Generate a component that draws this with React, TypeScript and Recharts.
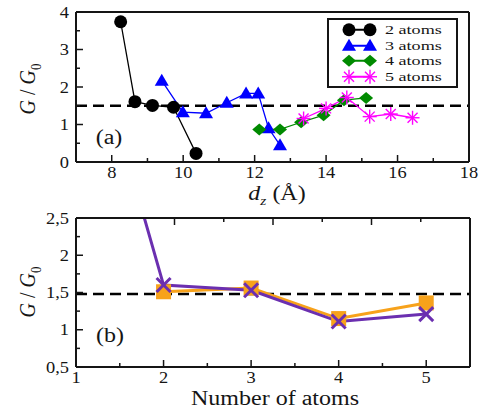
import React from 'react'
import { LineChart, Line, XAxis, YAxis, ReferenceLine, Legend } from 'recharts'

const FONT = '"Liberation Serif", "DejaVu Serif", serif'
const INK = '#151515'

// panel (a): G/G0 against electrode separation d_z
const dz2 = [8.25, 8.65, 9.14, 9.73, 10.36]
const g2 = [3.74, 1.61, 1.51, 1.46, 0.23]
const dz3 = [9.4, 9.99, 10.64, 11.22, 11.76, 12.1, 12.39, 12.71]
const g3 = [2.17, 1.33, 1.3, 1.58, 1.83, 1.83, 0.9, 0.45]
const dz4 = [12.13, 12.71, 13.3, 13.93, 14.5, 15.12]
const g4 = [0.87, 0.87, 1.06, 1.25, 1.65, 1.71]
const dz5 = [13.37, 14.0, 14.58, 15.22, 15.81, 16.42]
const g5 = [1.16, 1.43, 1.72, 1.21, 1.28, 1.18]
const seriesNames = ['2 atoms', '3 atoms', '4 atoms', '5 atoms']
const limitA = 1.5

// panel (b): G/G0 against number of atoms
const atomCounts = [1, 2, 3, 4, 5]
const gSquare = [null, 1.51, 1.56, 1.15, 1.36]
const gCross = [5.7, 1.6, 1.53, 1.11, 1.21]
const limitB = 1.48

// axis ticks (all ticks, and the labelled/major ones)
const dzTicks = [7, 8, 9, 10, 11, 12, 13, 14, 15, 16, 17, 18]
const dzMajor = [8, 10, 12, 14, 16, 18]
const gTicksA = [0, 0.5, 1, 1.5, 2, 2.5, 3, 3.5, 4]
const gMajorA = [0, 1, 2, 3, 4]
const nTicks = [1, 1.5, 2, 2.5, 3, 3.5, 4, 4.5, 5, 5.5]
const nMajor = [1, 2, 3, 4, 5]
const gTicksB = [0.5, 0.75, 1, 1.25, 1.5, 1.75, 2, 2.25, 2.5]
const gMajorB = [0.5, 1, 1.5, 2, 2.5]

const seriesA = [
  { name: seriesNames[0], xs: dz2, ys: g2, color: '#000000', shape: 'circle' },
  { name: seriesNames[1], xs: dz3, ys: g3, color: '#0000ff', shape: 'triangle' },
  { name: seriesNames[2], xs: dz4, ys: g4, color: '#008a00', shape: 'diamond' },
  { name: seriesNames[3], xs: dz5, ys: g5, color: '#ff00ff', shape: 'star' },
]

const rowsB = atomCounts.map((n, i) => ({ n, sq: gSquare[i], cr: gCross[i] }))

function Marker({ shape, cx, cy, color }: { shape: string; cx: number; cy: number; color: string }) {
  switch (shape) {
    case 'circle':
      return <circle cx={cx} cy={cy} r={6.5} fill={color} />
    case 'triangle':
      return <polygon points={`${cx},${cy - 7} ${cx - 7},${cy + 5} ${cx + 7},${cy + 5}`} fill={color} />
    case 'diamond':
      return <polygon points={`${cx},${cy - 6} ${cx + 7},${cy} ${cx},${cy + 6} ${cx - 7},${cy}`} fill={color} />
    case 'star':
      return (
        <g stroke={color} strokeWidth={1.4}>
          <line x1={cx - 7} y1={cy} x2={cx + 7} y2={cy} />
          <line x1={cx} y1={cy - 7} x2={cx} y2={cy + 7} />
          <line x1={cx - 5} y1={cy - 5} x2={cx + 5} y2={cy + 5} />
          <line x1={cx - 5} y1={cy + 5} x2={cx + 5} y2={cy - 5} />
        </g>
      )
    case 'square':
      return <rect x={cx - 7.5} y={cy - 7.5} width={15} height={15} fill={color} />
    case 'cross':
      return (
        <g stroke={color} strokeWidth={3}>
          <line x1={cx - 7} y1={cy - 7} x2={cx + 7} y2={cy + 7} />
          <line x1={cx - 7} y1={cy + 7} x2={cx + 7} y2={cy - 7} />
        </g>
      )
    default:
      return null
  }
}

const dotOf = (shape: string, color: string) => (p: any) => {
  if (p.cx == null || p.cy == null || p.value == null) return <g key={p.index} />
  return <Marker key={p.index} shape={shape} cx={p.cx} cy={p.cy} color={color} />
}

const fmtComma = (v: number) => String(v).replace('.', ',')

// inward ticks, drawn by hand; labels only on the bottom and left axes
function makeTick(side: 'bottom' | 'top' | 'left' | 'right', majors: number[], labels: boolean, fmt = (v: number) => String(v)) {
  return (props: any) => {
    const { x, y, payload, index } = props
    const v = payload.value
    const major = majors.includes(v)
    const len = major ? 7 : 4
    let tick
    if (side === 'bottom') tick = <line x1={x} x2={x} y1={y} y2={y - len} />
    else if (side === 'top') tick = <line x1={x} x2={x} y1={y} y2={y + len} />
    else if (side === 'left') tick = <line x1={x} x2={x + len} y1={y} y2={y} />
    else tick = <line x1={x} x2={x - len} y1={y} y2={y} />
    let label = null
    if (labels && major) {
      const tx = side === 'left' ? x - 7 : x
      const ty = side === 'left' ? y + 5.5 : y + 16
      label = (
        <text
          transform={`translate(${tx} ${ty}) scale(1.15 1)`}
          textAnchor={side === 'left' ? 'end' : 'middle'}
          fontSize={16}
          fontFamily={FONT}
          fill={INK}
          stroke="none"
        >
          {fmt(v)}
        </text>
      )
    }
    return (
      <g key={index} stroke={INK} strokeWidth={1.5}>
        {tick}
        {label}
      </g>
    )
  }
}

const ROW = 15.5

const LegendBox = ({ payload }: any) => (
  <div style={{ border: `2px solid ${INK}`, background: '#fff', width: 127, padding: '2px 0', fontFamily: FONT }}>
    {(payload || []).map((p: any) => {
      const s = seriesA.find((q) => q.name === p.value)
      if (!s) return null
      return (
        <div key={s.name} style={{ height: ROW, display: 'flex', alignItems: 'center' }}>
          <svg width={50} height={ROW} style={{ marginLeft: 12, overflow: 'visible' }}>
            <line x1={8} x2={29} y1={ROW / 2} y2={ROW / 2} stroke={s.color} strokeWidth={2} />
            <Marker shape={s.shape} cx={8} cy={ROW / 2} color={s.color} />
            <Marker shape={s.shape} cx={29} cy={ROW / 2} color={s.color} />
          </svg>
          <span
            style={{
              fontSize: 13.4,
              lineHeight: 1,
              color: INK,
              transform: 'scaleX(1.35)',
              transformOrigin: 'left',
              marginLeft: -6,
              display: 'inline-block',
            }}
          >
            {s.name}
          </span>
        </div>
      )
    })}
  </div>
)

const axisLine = { stroke: INK, strokeWidth: 2 }

function Overlay({ left, top, rotate, size, children }: any) {
  return (
    <div
      style={{
        position: 'absolute',
        left,
        top,
        transform: `translate(-50%, -50%) ${rotate ? 'rotate(-90deg) scaleY(1.15)' : 'scaleX(1.2)'}`,
        whiteSpace: 'nowrap',
        fontFamily: FONT,
        fontSize: size,
        color: INK,
        lineHeight: 1,
      }}
    >
      {children}
    </div>
  )
}

const gLabel = (
  <>
    <i>G</i> / <i>G</i>
    <sub style={{ fontSize: 13, lineHeight: 0 }}>0</sub>
  </>
)

// shared props for the four framing axes (1px thick so they still render)
const frame = { interval: 0 as const, tickSize: 0, tickMargin: 0, axisLine, tickLine: false }

export default function App() {
  return (
    <div style={{ position: 'absolute', left: 0, top: 0, width: 480, height: 410, background: '#fff' }}>
      <div style={{ position: 'absolute', left: 0, top: 0 }}>
        <LineChart width={480} height={200} margin={{ top: 11, right: 10, bottom: 37, left: 75 }}>
          <XAxis
            dataKey="d"
            type="number"
            domain={[7, 18]}
            ticks={dzTicks}
            height={1}
            {...frame}
            tick={makeTick('bottom', dzMajor, true)}
          />
          <XAxis
            xAxisId="top"
            orientation="top"
            type="number"
            domain={[7, 18]}
            ticks={dzTicks}
            height={1}
            {...frame}
            tick={makeTick('top', dzMajor, false)}
          />
          <YAxis
            type="number"
            domain={[0, 4]}
            ticks={gTicksA}
            width={1}
            {...frame}
            tick={makeTick('left', gMajorA, true)}
          />
          <YAxis
            yAxisId="right"
            orientation="right"
            type="number"
            domain={[0, 4]}
            ticks={gTicksA}
            width={1}
            {...frame}
            tick={makeTick('right', gMajorA, false)}
          />
          <ReferenceLine y={limitA} stroke="#000" strokeWidth={2.5} strokeDasharray="11 6" />
          {seriesA.map((s) => (
            <Line
              key={s.name}
              name={s.name}
              data={s.xs.map((d, i) => ({ d, g: s.ys[i] }))}
              dataKey="g"
              stroke={s.color}
              strokeWidth={1.3}
              dot={dotOf(s.shape, s.color)}
              activeDot={false}
              isAnimationActive={false}
            />
          ))}
          <Legend
            layout="vertical"
            align="center"
            verticalAlign="middle"
            content={<LegendBox />}
            wrapperStyle={{ position: 'absolute', left: 327, top: 18, width: 'auto', height: 'auto' }}
          />
        </LineChart>
      </div>

      <div style={{ position: 'absolute', left: 0, top: 200 }}>
        <LineChart width={480} height={210} data={rowsB} margin={{ top: 17, right: 9, bottom: 42, left: 75 }}>
          <XAxis
            dataKey="n"
            type="number"
            domain={[1, 5.5]}
            ticks={nTicks}
            height={1}
            {...frame}
            tick={makeTick('bottom', nMajor, true)}
          />
          <XAxis
            xAxisId="top"
            orientation="top"
            type="number"
            domain={[1, 5.5]}
            ticks={nTicks}
            height={1}
            {...frame}
            tick={makeTick('top', nMajor, false)}
          />
          <YAxis
            type="number"
            domain={[0.5, 2.5]}
            allowDataOverflow
            ticks={gTicksB}
            width={1}
            {...frame}
            tick={makeTick('left', gMajorB, true, fmtComma)}
          />
          <YAxis
            yAxisId="right"
            orientation="right"
            type="number"
            domain={[0.5, 2.5]}
            ticks={gTicksB}
            width={1}
            {...frame}
            tick={makeTick('right', gMajorB, false)}
          />
          <ReferenceLine y={limitB} stroke="#000" strokeWidth={2.5} strokeDasharray="11 6" />
          <Line
            dataKey="sq"
            stroke="#f7a21b"
            strokeWidth={3}
            dot={dotOf('square', '#f7a21b')}
            activeDot={false}
            isAnimationActive={false}
          />
          <Line
            dataKey="cr"
            stroke="#6b2fb0"
            strokeWidth={3}
            dot={dotOf('cross', '#6b2fb0')}
            activeDot={false}
            isAnimationActive={false}
          />
        </LineChart>
      </div>

      <Overlay left={27} top={89} rotate size={20}>{gLabel}</Overlay>
      <Overlay left={27} top={292} rotate size={20}>{gLabel}</Overlay>
      <Overlay left={109} top={137} size={20}>(a)</Overlay>
      <Overlay left={110} top={335} size={20}>(b)</Overlay>
      <Overlay left={277} top={193} size={20}>
        <i>d</i>
        <sub style={{ fontSize: 13, lineHeight: 0 }}>
          <i>z</i>
        </sub>
        {'  (Å)'}
      </Overlay>
      <Overlay left={275} top={398} size={20}>Number of atoms</Overlay>
    </div>
  )
}
